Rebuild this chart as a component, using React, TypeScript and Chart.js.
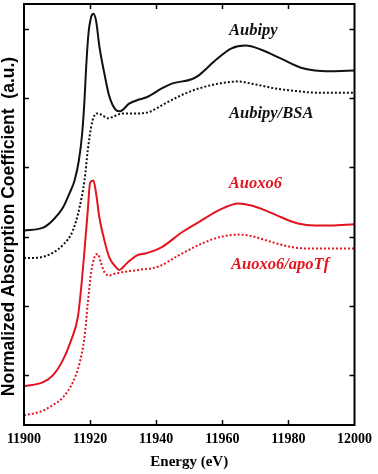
import React, { useEffect, useRef } from "react";
import { Chart, registerables } from "chart.js";

Chart.register(...registerables);

// Aubipy (solid black)
const aubipyE = [11900, 11905.8, 11908.8, 11911.8, 11913.8, 11915.3, 11916.6, 11917.6, 11918.3, 11918.8, 11919.5, 11920.3, 11921.0, 11921.8, 11922.8, 11924.3, 11925.8, 11927.8, 11929.0, 11931.8, 11934.8, 11936.9, 11941.7, 11944.7, 11950.5, 11952.9, 11958.0, 11962.8, 11967.0, 11971.8, 11977.8, 11983.8, 11988.0, 11992.8, 12000];
const aubipyY = [2.09, 2.13, 2.24, 2.42, 2.63, 2.81, 3.1, 3.49, 3.97, 4.44, 4.93, 5.17, 5.22, 5.12, 4.75, 4.36, 4.03, 3.83, 3.81, 3.92, 3.98, 4.01, 4.14, 4.21, 4.27, 4.33, 4.55, 4.72, 4.76, 4.7, 4.57, 4.44, 4.4, 4.39, 4.4];

// Aubipy/BSA (dotted black)
const bsaE = [11900, 11904.8, 11908.8, 11911.8, 11914.8, 11916.8, 11918.3, 11919.3, 11920.3, 11921.3, 11922.3, 11923.8, 11925.3, 11927.8, 11929.8, 11934.8, 11937.8, 11942.9, 11948.9, 11952.9, 11958.9, 11964.9, 11968.8, 11973.0, 11976.0, 11982.9, 11988.0, 11992.8, 12000];
const bsaY = [1.69, 1.7, 1.77, 1.88, 2.09, 2.42, 2.81, 3.25, 3.58, 3.75, 3.78, 3.75, 3.71, 3.75, 3.78, 3.78, 3.8, 3.93, 4.07, 4.14, 4.21, 4.24, 4.21, 4.17, 4.14, 4.1, 4.08, 4.08, 4.08];

// Auoxo6 (solid red)
const oxoE = [11900, 11905.8, 11908.8, 11911.8, 11914.3, 11916.3, 11917.3, 11918.3, 11919.3, 11920.0, 11921.0, 11921.8, 11922.8, 11924.3, 11925.8, 11927.8, 11928.8, 11931.2, 11934.2, 11936.9, 11941.7, 11947.7, 11952.9, 11958.9, 11964.9, 11968.8, 11973.0, 11977.8, 11982.9, 11988.0, 11992.8, 12000];
const oxoY = [-0.16, -0.1, 0.0, 0.22, 0.51, 0.84, 1.26, 1.8, 2.38, 2.78, 2.81, 2.63, 2.28, 1.95, 1.7, 1.56, 1.52, 1.62, 1.73, 1.76, 1.85, 2.06, 2.21, 2.38, 2.48, 2.45, 2.38, 2.28, 2.19, 2.16, 2.16, 2.18];

// Auoxo6/apoTf (dotted red)
const apoE = [11900, 11904.8, 11908.8, 11911.8, 11914.8, 11916.8, 11918.3, 11919.3, 11920.3, 11921.3, 11922.3, 11923.3, 11924.3, 11925.8, 11927.8, 11934.8, 11940.8, 11946.8, 11952.9, 11958.9, 11964.9, 11968.8, 11973.0, 11979.9, 11985.0, 11992.8, 12000];
const apoY = [-0.58, -0.53, -0.43, -0.32, -0.1, 0.17, 0.55, 1.04, 1.48, 1.7, 1.75, 1.62, 1.49, 1.44, 1.47, 1.52, 1.57, 1.73, 1.88, 1.99, 2.03, 2.01, 1.95, 1.86, 1.83, 1.83, 1.83];

const xTicks = [11920, 11940, 11960, 11980];
const yTicks = [0, 1, 2, 3, 4, 5];

const seriesNames = ["Aubipy", "Aubipy/BSA", "Auoxo6", "Auoxo6/apoTf"];
const labelE = [11969.4, 11974.8, 11970, 11977.5];
const labelY = [4.98, 3.78, 2.76, 1.6];
const yTitle = "Normalized Absorption Coefficient  (a.u.)";

const RED = "#e2141f";
const BLACK = "#111111";
const seriesColors = [BLACK, BLACK, RED, RED];

function pts(xs: number[], ys: number[]) {
  return xs.map((x, i) => ({ x, y: ys[i] }));
}

const framePlugin = {
  id: "framePlugin",
  afterDraw(chart: any) {
    const { ctx, chartArea } = chart;
    const xs = chart.scales.x;
    const ys = chart.scales.y;
    const { left, right, top, bottom } = chartArea;
    ctx.save();
    ctx.strokeStyle = "#000";
    ctx.lineWidth = 2;
    ctx.strokeRect(left, top, right - left, bottom - top);
    ctx.lineWidth = 1.5;
    const tl = 5;
    ctx.beginPath();
    xTicks.forEach((v) => {
      const px = Math.round(xs.getPixelForValue(v)) + 0.5;
      ctx.moveTo(px, bottom);
      ctx.lineTo(px, bottom - tl);
      ctx.moveTo(px, top);
      ctx.lineTo(px, top + tl);
    });
    yTicks.forEach((v) => {
      const py = Math.round(ys.getPixelForValue(v)) + 0.5;
      ctx.moveTo(left, py);
      ctx.lineTo(left + tl, py);
      ctx.moveTo(right, py);
      ctx.lineTo(right - tl, py);
    });
    ctx.stroke();
    ctx.font = 'italic bold 16.5px "Liberation Serif"';
    ctx.textAlign = "center";
    ctx.textBaseline = "middle";
    seriesNames.forEach((n, i) => {
      ctx.fillStyle = seriesColors[i];
      ctx.fillText(n, xs.getPixelForValue(labelE[i]), ys.getPixelForValue(labelY[i]));
    });
    // y-axis title
    ctx.translate(9, (top + bottom) / 2 + 12);
    ctx.rotate(-Math.PI / 2);
    ctx.fillStyle = "#000";
    ctx.font = 'bold 17.5px "Liberation Sans"';
    ctx.fillText(yTitle, 0, 0);
    ctx.restore();
  },
};

export default function App() {
  const ref = useRef<HTMLCanvasElement>(null);
  useEffect(() => {
    document.body.style.margin = "0";
    const chart = new Chart(ref.current as HTMLCanvasElement, {
      type: "line",
      data: {
        datasets: [
          { label: seriesNames[0], data: pts(aubipyE, aubipyY), borderColor: BLACK, borderWidth: 2 },
          { label: seriesNames[1], data: pts(bsaE, bsaY), borderColor: BLACK, borderWidth: 2, borderDash: [2, 2] },
          { label: seriesNames[2], data: pts(oxoE, oxoY), borderColor: RED, borderWidth: 2 },
          { label: seriesNames[3], data: pts(apoE, apoY), borderColor: RED, borderWidth: 2, borderDash: [2, 2] },
        ].map((d) => ({ ...d, pointRadius: 0, fill: false, cubicInterpolationMode: "monotone" as const })),
      },
      options: {
        animation: false,
        responsive: false,
        layout: { padding: { top: 4, right: 21, left: 0, bottom: 0 } },
        plugins: { legend: { display: false }, tooltip: { enabled: false } },
        scales: {
          x: {
            type: "linear",
            min: 11900,
            max: 12000,
            grid: { display: false, drawTicks: false },
            border: { display: false },
            ticks: {
              stepSize: 20,
              padding: 6,
              color: "#000",
              font: { family: '"Liberation Serif"', size: 14, weight: "bold" },
              maxRotation: 0,
              callback: (v: any) => String(v),
            },
            title: {
              display: true,
              text: "Energy (eV)",
              color: "#000",
              padding: { top: 0, bottom: 3 },
              font: { family: '"Liberation Serif"', size: 15, weight: "bold" },
            },
            afterFit: (s: any) => {
              s.height = 49;
            },
          },
          y: {
            type: "linear",
            min: -0.72,
            max: 5.36,
            grid: { display: false, drawTicks: false },
            border: { display: false },
            ticks: { display: false },
            title: { display: false },
            afterFit: (s: any) => {
              s.width = 24;
            },
          },
        },
      },
      plugins: [framePlugin],
    });
    return () => chart.destroy();
  }, []);
  return (
    <div style={{ width: 378, height: 474, background: "#fff" }}>
      <canvas ref={ref} width={378} height={474} style={{ display: "block" }} />
    </div>
  );
}
